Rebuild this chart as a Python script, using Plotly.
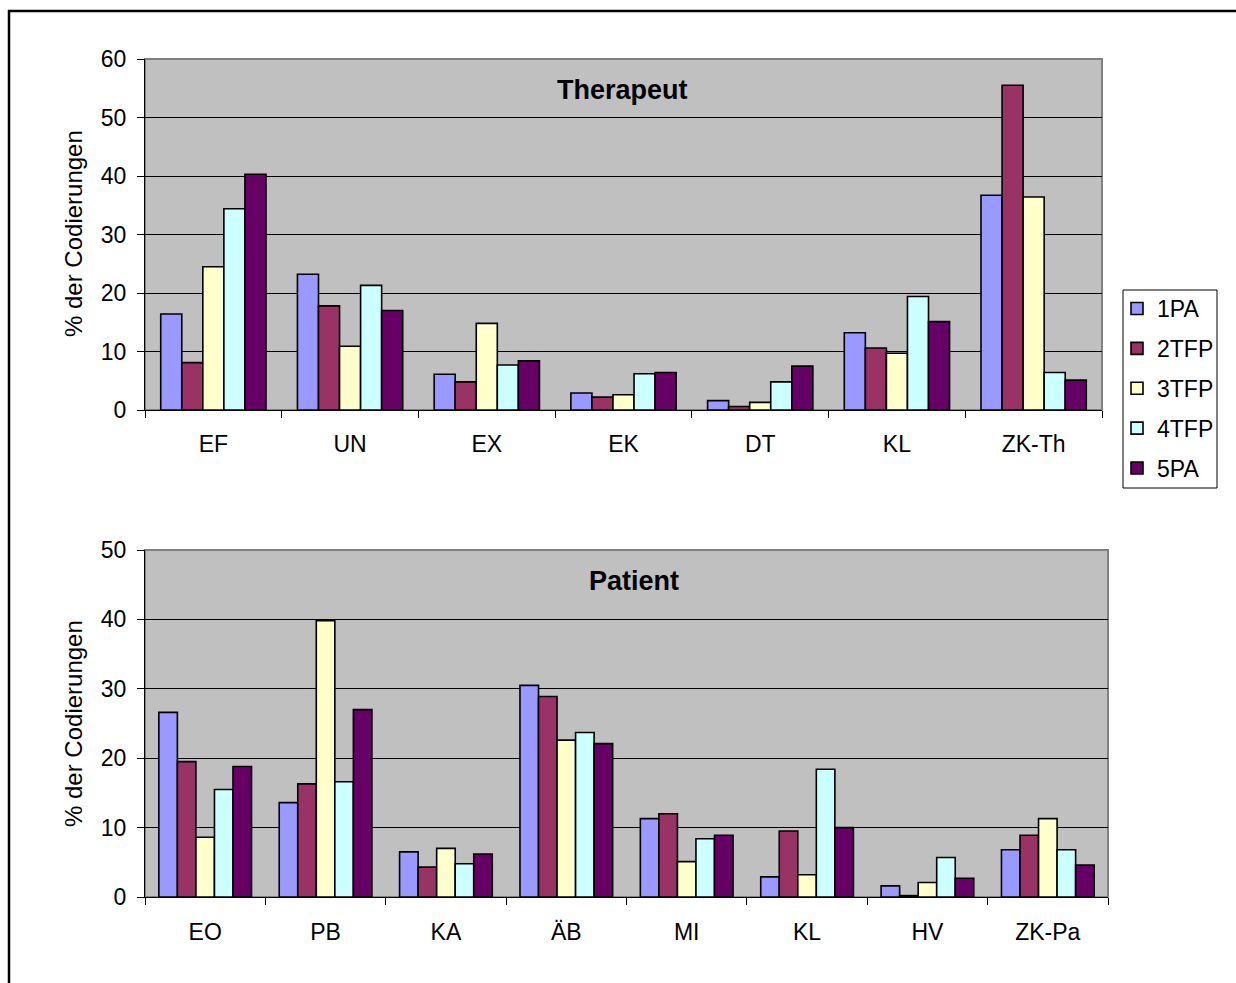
import plotly.graph_objects as go

# Category labels for the two panels
cats_ther = ["EF", "UN", "EX", "EK", "DT", "KL", "ZK-Th"]
cats_pat = ["EO", "PB", "KA", "ÄB", "MI", "KL", "HV", "ZK-Pa"]

series = ["1PA", "2TFP", "3TFP", "4TFP", "5PA"]
colors = ["#9999FF", "#993366", "#FFFFCC", "#CCFFFF", "#660066"]

# Therapeut: % der Codierungen per series
ther_1PA = [16.4, 23.2, 6.1, 2.9, 1.6, 13.2, 36.7]
ther_2TFP = [8.1, 17.8, 4.8, 2.2, 0.6, 10.6, 55.5]
ther_3TFP = [24.5, 10.9, 14.8, 2.6, 1.3, 9.7, 36.4]
ther_4TFP = [34.4, 21.3, 7.7, 6.2, 4.8, 19.4, 6.4]
ther_5PA = [40.3, 17.0, 8.4, 6.4, 7.5, 15.1, 5.1]

# Patient: % der Codierungen per series
pat_1PA = [26.6, 13.6, 6.5, 30.5, 11.3, 2.9, 1.6, 6.8]
pat_2TFP = [19.5, 16.3, 4.3, 28.9, 12.0, 9.5, 0.2, 8.9]
pat_3TFP = [8.6, 39.8, 7.0, 22.6, 5.1, 3.2, 2.1, 11.3]
pat_4TFP = [15.5, 16.6, 4.8, 23.7, 8.4, 18.4, 5.7, 6.8]
pat_5PA = [18.8, 27.0, 6.2, 22.1, 8.9, 10.0, 2.7, 4.6]

ther_vals = [ther_1PA, ther_2TFP, ther_3TFP, ther_4TFP, ther_5PA]
pat_vals = [pat_1PA, pat_2TFP, pat_3TFP, pat_4TFP, pat_5PA]

W, H = 1236, 983
FONT = "Liberation Sans, Arial, sans-serif"
FS = 23


def px_x(x):
    return x / W


def px_y(y):
    return 1 - y / H


fig = go.Figure()

for name, col, tv, pv in zip(series, colors, ther_vals, pat_vals):
    fig.add_trace(go.Bar(
        x=cats_ther, y=tv, name=name,
        marker=dict(color=col, line=dict(color="black", width=1.6)),
        xaxis="x", yaxis="y", legendgroup=name, showlegend=True,
    ))
    fig.add_trace(go.Bar(
        x=cats_pat, y=pv, name=name,
        marker=dict(color=col, line=dict(color="black", width=1.6)),
        xaxis="x2", yaxis="y2", legendgroup=name, showlegend=False,
    ))

axis_common = dict(
    showline=True, linecolor="black", linewidth=1,
    ticks="outside", ticklen=7, tickcolor="black", tickwidth=1,
    tickfont=dict(family=FONT, size=FS, color="black"),
    fixedrange=True, automargin=False,
)

fig.update_layout(
    width=W, height=H,
    margin=dict(l=0, r=0, t=0, b=0, autoexpand=False),
    paper_bgcolor="white",
    plot_bgcolor="#C0C0C0",
    barmode="group",
    bargap=0.23,
    bargroupgap=0,
    font=dict(family=FONT, size=FS, color="black"),
    xaxis=dict(domain=[px_x(145), px_x(1102)], anchor="y", tickson="boundaries",
               showgrid=False, ticklabelstandoff=13, **axis_common),
    yaxis=dict(domain=[px_y(410), px_y(59)], anchor="x", range=[0, 60], dtick=10,
               showgrid=True, gridcolor="black", gridwidth=1, zeroline=False,
               ticklabelstandoff=6, **axis_common),
    xaxis2=dict(domain=[px_x(145), px_x(1108)], anchor="y2", tickson="boundaries",
                showgrid=False, ticklabelstandoff=14, **axis_common),
    yaxis2=dict(domain=[px_y(897), px_y(550)], anchor="x2", range=[0, 50], dtick=10,
                showgrid=True, gridcolor="black", gridwidth=1, zeroline=False,
                ticklabelstandoff=6, **axis_common),
    legend=dict(
        x=px_x(1117), y=px_y(287), xanchor="left", yanchor="top",
        borderwidth=0, bgcolor="rgba(0,0,0,0)",
        font=dict(family=FONT, size=FS, color="black"),
        itemwidth=30, tracegroupgap=7,
    ),
    showlegend=True,
)

# Legend frame
fig.add_shape(type="rect", xref="paper", yref="paper",
              x0=px_x(1123), x1=px_x(1217), y0=px_y(488), y1=px_y(290),
              line=dict(color="black", width=1), fillcolor="white", layer="below")

# Panel titles and y-axis titles
fig.add_annotation(text="<b>Therapeut</b>", x=px_x(622), y=px_y(90), xref="paper", yref="paper",
                   xanchor="center", yanchor="middle", showarrow=False,
                   font=dict(family=FONT, size=27, color="black"))
fig.add_annotation(text="<b>Patient</b>", x=px_x(634), y=px_y(581), xref="paper", yref="paper",
                   xanchor="center", yanchor="middle", showarrow=False,
                   font=dict(family=FONT, size=27, color="black"))
fig.add_annotation(text="% der Codierungen", x=px_x(73), y=px_y(234), xref="paper", yref="paper",
                   xanchor="center", yanchor="middle", textangle=-90, showarrow=False,
                   font=dict(family=FONT, size=24, color="black"))
fig.add_annotation(text="% der Codierungen", x=px_x(73), y=px_y(724), xref="paper", yref="paper",
                   xanchor="center", yanchor="middle", textangle=-90, showarrow=False,
                   font=dict(family=FONT, size=24, color="black"))

# Plot-area outlines and the outer frame
fig.add_shape(type="rect", xref="paper", yref="paper",
              x0=px_x(145), x1=px_x(1102), y0=px_y(410), y1=px_y(59),
              line=dict(color="#808080", width=2), layer="below")
fig.add_shape(type="rect", xref="paper", yref="paper",
              x0=px_x(145), x1=px_x(1108), y0=px_y(897), y1=px_y(550),
              line=dict(color="#808080", width=2), layer="below")
fig.add_shape(type="rect", xref="paper", yref="paper",
              x0=px_x(9), x1=px_x(1250), y0=px_y(1000), y1=px_y(11),
              line=dict(color="black", width=2.5))

fig.write_html("out.html")
